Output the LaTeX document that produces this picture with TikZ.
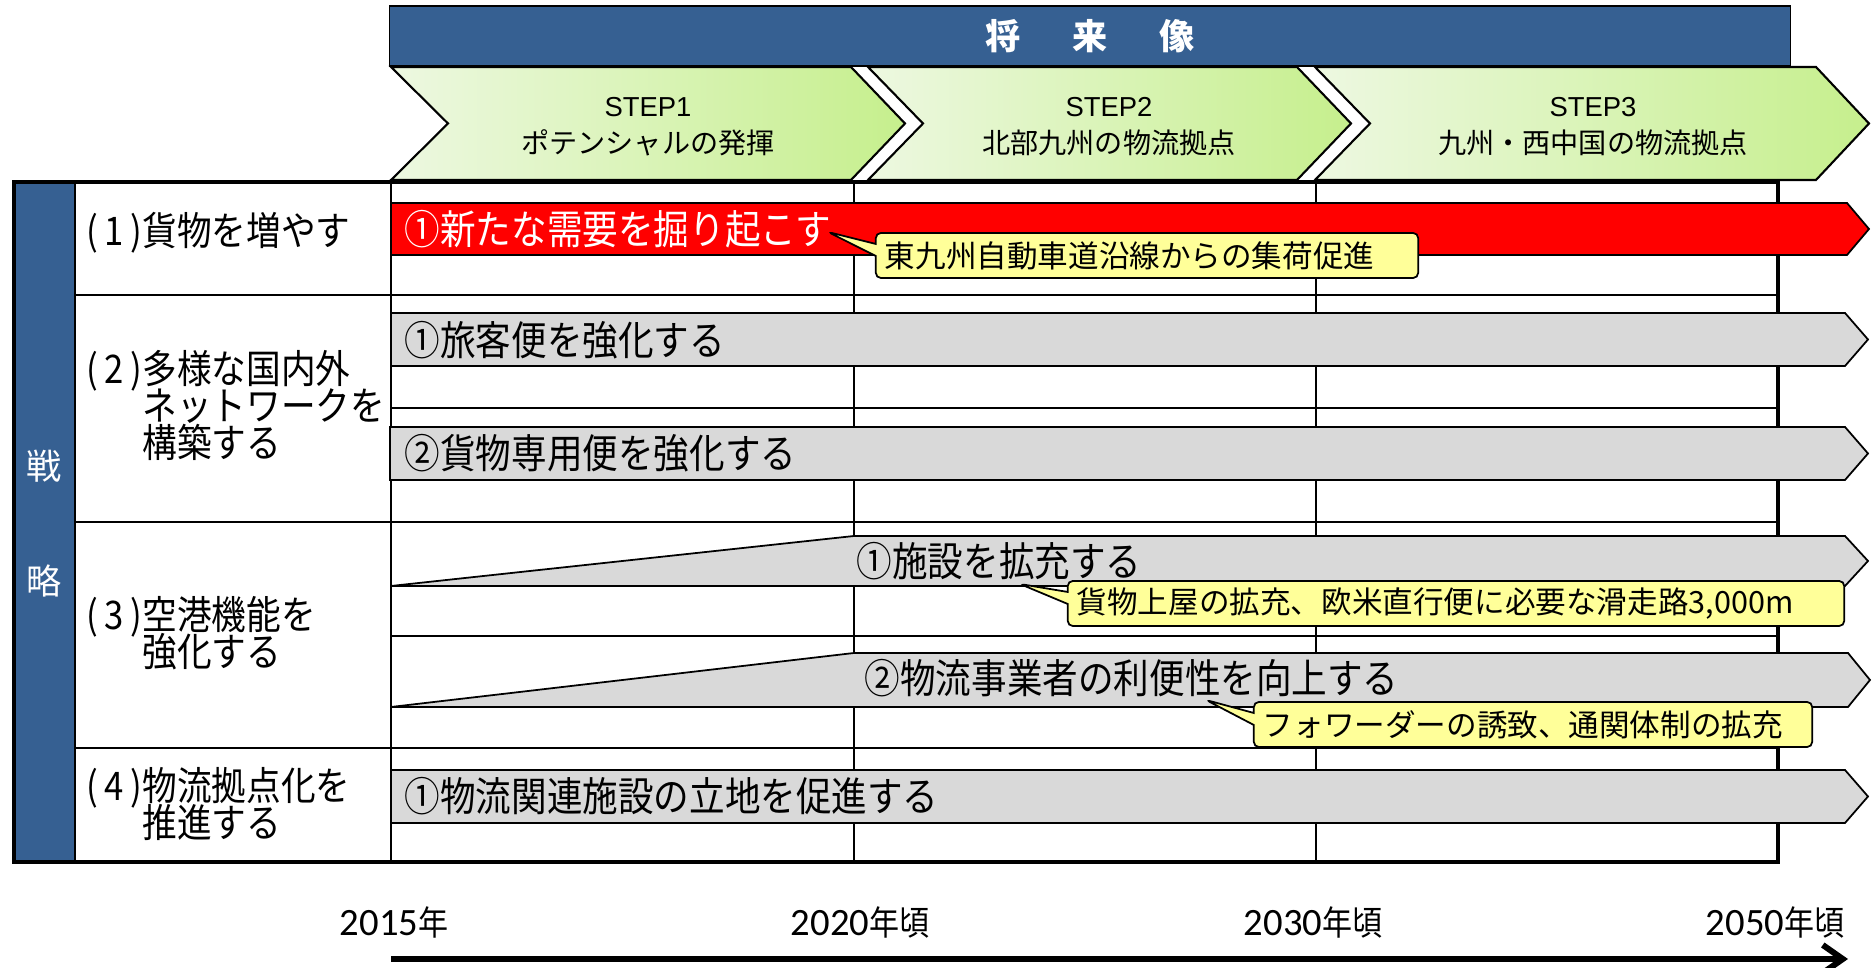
\documentclass[tikz,border=0pt]{standalone}
\usepackage{fontspec}
\setmainfont{Noto Sans CJK JP}
\newfontfamily\jpc{Noto Sans CJK JP}[FakeStretch=0.88]
\newfontfamily\yearfont{Carlito}
\newfontfamily\stepfont{Liberation Sans}
\usetikzlibrary{shapes.callouts,arrows.meta}

\definecolor{planblue}{RGB}{54,96,146}
\definecolor{stepgreen}{RGB}{198,239,141}
\definecolor{steplight}{RGB}{237,248,225}
\definecolor{bargray}{RGB}{217,217,217}
\definecolor{noteyellow}{RGB}{255,255,153}

\newcommand{\yeartext}[2]{#1{\jpc\fontsize{9.7}{10}\selectfont #2}}
\newcommand{\rowfont}{\jpc\fontsize{11.2}{10.5}\selectfont\lineskiplimit=-20pt\relax}

\tikzset{
  tableline/.style={line width=0.6pt},
  stepbox/.style={draw, line width=0.6pt, left color=steplight, right color=stepgreen},
  barshape/.style={draw, line width=0.5pt, fill=bargray},
  barlabel/.style={anchor=west, inner sep=0pt, font=\jpc\fontsize{11.5}{10.5}\selectfont},
  rowlabel/.style={anchor=west, inner sep=0pt, align=left, font=\rowfont},
  note/.style={rectangle callout, draw, fill=noteyellow, rounded corners=0.5mm, line width=0.5pt, inner xsep=0.09cm, inner ysep=0pt, minimum height=0.45cm, align=left, font=\fontsize{8.7}{9}\selectfont, callout pointer width=0.12cm},
  yearlabel/.style={inner sep=0pt, font=\yearfont\fontsize{11}{12}\selectfont},
}

\begin{document}
\begin{tikzpicture}[x=0.01cm, y=-0.01cm]
                    \useasboundingbox (0,0) rectangle (1872,968);
                    % future header
                    \node[draw, fill=planblue, minimum width=14cm, minimum height=0.6cm, text=white, font=\bfseries\fontsize{10}{12}\selectfont] (future) at (1090,36) {将\hspace{14.7pt}来\hspace{14.7pt}像};
                    % steps
                    \draw[stepbox] (391,67) -- (851,67) -- (905,123.5) -- (851,180) -- (391,180) -- (448,123.5) -- cycle;
                    \draw[stepbox] (868,67) -- (1297,67) -- (1351,123.5) -- (1297,180) -- (868,180) -- (923,123.5) -- cycle;
                    \draw[stepbox] (1315,67) -- (1816,67) -- (1869,123.5) -- (1816,180) -- (1315,180) -- (1370,123.5) -- cycle;
                    \node[font=\stepfont\fontsize{7.8}{9}\selectfont] (step1) at (648,107) {STEP1};
                    \node[font=\fontsize{8}{9}\selectfont] (step1txt) at (648,143) {ポテンシャルの発揮};
                    \node[font=\stepfont\fontsize{7.8}{9}\selectfont] (step2) at (1109,107) {STEP2};
                    \node[font=\fontsize{8}{9}\selectfont] (step2txt) at (1109,143) {北部九州の物流拠点};
                    \node[font=\stepfont\fontsize{7.8}{9}\selectfont] (step3) at (1593,107) {STEP3};
                    \node[font=\fontsize{8}{9}\selectfont] (step3txt) at (1593,143) {九州・西中国の物流拠点};
                    % table
                    \fill[planblue] (14,182) rectangle (75,862);
                    \draw[tableline] (75,182) -- (75,862);
                    \draw[tableline] (391,182) -- (391,862);
                    \draw[tableline] (854,182) -- (854,862);
                    \draw[tableline] (1316,182) -- (1316,862);
                    \draw[tableline] (75,295) -- (1778,295);
                    \draw[tableline] (75,522) -- (1778,522);
                    \draw[tableline] (75,748) -- (1778,748);
                    \draw[tableline] (391,408) -- (1778,408);
                    \draw[tableline] (391,636) -- (1778,636);
                    \draw[line width=0.9pt] (14,182) rectangle (1778,862);
                    \node[text=white, font=\fontsize{10}{12}\selectfont] (sen) at (44,466) {戦};
                    \node[text=white, font=\fontsize{10}{12}\selectfont] (ryaku) at (44,581) {略};
                    \node[rowlabel] (row1) at (86,233) {(\,1\,)貨物を増やす};
                    \node[rowlabel] (row2) at (86,408) {(\,2\,)多様な国内外\\\phantom{(\,2\,)}ネットワークを\\\phantom{(\,2\,)}構築する};
                    \node[rowlabel] (row3) at (86,635) {(\,3\,)空港機能を\\\phantom{(\,3\,)}強化する};
                    \node[rowlabel] (row4) at (86,806) {(\,4\,)物流拠点化を\\\phantom{(\,4\,)}推進する};
                    % bars
                    \draw[line width=0.5pt, fill=red] (391,203) -- (1847,203) -- (1869,229) -- (1847,255) -- (391,255) -- cycle;
                    \draw[barshape] (391,313) -- (1845,313) -- (1868,339.5) -- (1845,366) -- (391,366) -- cycle;
                    \draw[barshape] (390,427) -- (1845,427) -- (1868,453.5) -- (1845,480) -- (390,480) -- cycle;
                    \draw[barshape] (391,586) -- (854,536) -- (1845,536) -- (1868,561) -- (1845,586) -- cycle;
                    \draw[barshape] (391,707) -- (854,653) -- (1848,653) -- (1870,680) -- (1848,707) -- cycle;
                    \draw[barshape] (391,770) -- (1845,770) -- (1868,796.5) -- (1845,823) -- (391,823) -- cycle;
                    \node[barlabel, text=white] (bar1) at (404,229) {①新たな需要を掘り起こす};
                    \node[barlabel] (bar2a) at (404,340) {①旅客便を強化する};
                    \node[barlabel] (bar2b) at (404,453) {②貨物専用便を強化する};
                    \node[barlabel] (bar3a) at (856,561) {①施設を拡充する};
                    \node[barlabel] (bar3b) at (864,678) {②物流事業者の利便性を向上する};
                    \node[barlabel] (bar4) at (404,796) {①物流関連施設の立地を促進する};
                    % notes
                    \node[note, text width=5.24cm, callout absolute pointer={(828,232)}] (note1) at (1147,255.5) {東九州自動車道沿線からの集荷促進};
                    \node[note, text width=7.58cm, callout absolute pointer={(1020,584)}] (note2) at (1456,603.5) {貨物上屋の拡充、欧米直行便に必要な滑走路3,000m};
                    \node[note, text width=5.40cm, callout absolute pointer={(1206,700)}] (note3) at (1533,724.5) {フォワーダーの誘致、通関体制の拡充};
                    % time axis
                    \node[yearlabel] (y2015) at (394,922) {\yeartext{2015}{年}};
                    \node[yearlabel] (y2020) at (860,922) {\yeartext{2020}{年頃}};
                    \node[yearlabel] (y2030) at (1313,922) {\yeartext{2030}{年頃}};
                    \node[yearlabel] (y2050) at (1775,922) {\yeartext{2050}{年頃}};
                    \coordinate (t0) at (391,959);
                    \coordinate (t1) at (1848,959);
                    \draw[line width=1.7pt, -{Straight Barb[length=2mm, width=2.8mm]}] (t0) -- (t1);
                \end{tikzpicture}
\end{document}
